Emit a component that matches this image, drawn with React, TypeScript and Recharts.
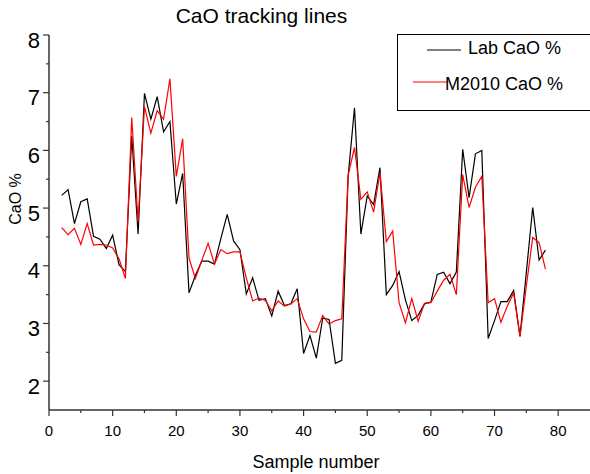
import { Label, Legend, Line, LineChart, XAxis, YAxis } from "recharts"

const sampleNumbers = [
  2, 3, 4, 5, 6, 7, 8, 9, 10, 11, 12, 13, 14, 15, 16, 17, 18, 19, 20, 21, 22, 23, 24, 25, 26, 27, 28, 29, 30,
  31, 32, 33, 34, 35, 36, 37, 38, 39, 40, 41, 42, 43, 44, 45, 46, 47, 48, 49, 50, 51, 52, 53, 54, 55, 56, 57,
  58, 59, 60, 61, 62, 63, 64, 65, 66, 67, 68, 69, 70, 71, 72, 73, 74, 75, 76, 77, 78,
]

const labCaO = [
  5.22, 5.32, 4.73, 5.11, 5.16, 4.51, 4.46, 4.3, 4.53, 4.02, 3.9, 6.25, 4.55, 6.99, 6.54, 6.93, 6.32, 6.5, 5.07,
  5.6, 3.53, 3.83, 4.08, 4.08, 4.03, 4.47, 4.89, 4.43, 4.28, 3.51, 3.79, 3.4, 3.43, 3.13, 3.56, 3.31, 3.34, 3.6,
  2.48, 2.79, 2.4, 3.09, 3.07, 2.31, 2.36, 5.55, 6.74, 4.55, 5.21, 5.06, 5.7, 3.5, 3.66, 3.9, 3.41, 3.05, 3.14,
  3.34, 3.37, 3.85, 3.89, 3.69, 3.89, 6.02, 5.18, 5.94, 6.0, 2.74, 3.05, 3.38, 3.38, 3.57, 2.78, 3.89, 5.01, 4.1,
  4.27,
]

const m2010CaO = [
  4.66, 4.54, 4.65, 4.37, 4.73, 4.36, 4.37, 4.36, 4.31, 4.12, 3.78, 6.57, 4.76, 6.76, 6.3, 6.69, 6.54, 7.24, 5.55,
  6.2, 4.13, 3.78, 4.09, 4.39, 4.03, 4.28, 4.21, 4.24, 4.24, 3.79, 3.39, 3.44, 3.4, 3.22, 3.39, 3.3, 3.34, 3.43,
  3.08, 2.86, 2.85, 3.14, 2.99, 3.05, 3.08, 5.57, 6.05, 5.15, 5.28, 4.93, 5.61, 4.42, 4.6, 3.36, 3.01, 3.43, 3.04,
  3.35, 3.36, 3.56, 3.75, 3.85, 3.5, 5.58, 5.01, 5.36, 5.55, 3.36, 3.43, 3.02, 3.3, 3.53, 2.77, 3.65, 4.49, 4.4,
  3.94,
]

const xTicks = [0, 5, 10, 15, 20, 25, 30, 35, 40, 45, 50, 55, 60, 65, 70, 75, 80]
const yTicks = [2, 2.5, 3, 3.5, 4, 4.5, 5, 5.5, 6, 6.5, 7, 7.5, 8]

const data = sampleNumbers.map((n, i) => ({ n, lab: labCaO[i], m2010: m2010CaO[i] }))

const axisColor = "#333"

const YTick = ({ x, y, payload }: any) => {
  const major = Number.isInteger(payload.value)
  return (
    <g>
      <line x1={x - (major ? 6 : 3)} x2={x} y1={y} y2={y} stroke={axisColor} strokeWidth={1.2} />
      {major && (
        <text x={x - 9} y={y + 12.5} textAnchor="end" fontSize={22} fill="#000">
          {payload.value}
        </text>
      )}
    </g>
  )
}

const XTick = ({ x, y, payload }: any) => {
  const major = payload.value % 10 === 0
  return (
    <g>
      <line x1={x} x2={x} y1={y} y2={y + (major ? 6 : 3)} stroke={axisColor} strokeWidth={1.2} />
      {major && (
        <text x={x} y={y + 26} textAnchor="middle" fontSize={15} fill="#000">
          {payload.value}
        </text>
      )}
    </g>
  )
}

const legendOffsets = [
  { lineX: 30, lineY: 16, textX: 71, textY: 20 },
  { lineX: 16, lineY: 48, textX: 48, textY: 56 },
]

const LegendBox = ({ payload }: any) => (
  <svg width={200} height={77} style={{ display: "block" }}>
    <rect x={0.5} y={0.5} width={220} height={76} fill="#fff" stroke="#000" strokeWidth={1} />
    {(payload || []).map((entry: any, i: number) => {
      const o = legendOffsets[i]
      return (
        <g key={entry.value}>
          <line x1={o.lineX} x2={o.lineX + 34} y1={o.lineY} y2={o.lineY} stroke={entry.color} strokeWidth={1} />
          <text x={o.textX} y={o.textY} fontSize={18} fill="#000">
            {entry.value}
          </text>
        </g>
      )
    })}
  </svg>
)

export default function App() {
  return (
    <div
      style={{
        position: "absolute",
        left: 0,
        top: 0,
        width: 590,
        height: 474,
        overflow: "hidden",
        background: "#fff",
        fontFamily: "'Liberation Sans', Arial, sans-serif",
      }}
    >
      <div
        style={{
          position: "absolute",
          left: 0,
          top: 5,
          width: 523,
          textAlign: "center",
          fontSize: 21,
          lineHeight: "21px",
          color: "#000",
        }}
      >
        CaO tracking lines
      </div>
      <LineChart width={590} height={474} data={data} margin={{ top: 35, right: 0, left: 0, bottom: 0 }}>
        <XAxis
          dataKey="n"
          type="number"
          domain={[0, 85]}
          ticks={xTicks}
          interval={0}
          height={64}
          tickSize={0}
          tickMargin={0}
          tickLine={false}
          tick={<XTick />}
          axisLine={{ stroke: axisColor, strokeWidth: 1.5 }}
          allowDataOverflow
        >
          <Label
            content={() => (
              <text x={316} y={468} textAnchor="middle" fontSize={18} fill="#000">
                Sample number
              </text>
            )}
          />
        </XAxis>
        <YAxis
          type="number"
          domain={[1.5, 8]}
          ticks={yTicks}
          interval={0}
          width={49}
          tickSize={0}
          tickMargin={0}
          tickLine={false}
          tick={<YTick />}
          axisLine={{ stroke: axisColor, strokeWidth: 1.5 }}
          allowDataOverflow
        >
          <Label
            content={() => (
              <text x={20.5} y={199} transform="rotate(-90 20.5 199)" textAnchor="middle" fontSize={16} fill="#000">
                CaO %
              </text>
            )}
          />
        </YAxis>
        <Legend
          content={<LegendBox />}
          layout="horizontal"
          verticalAlign="middle"
          align="center"
          wrapperStyle={{ position: "absolute", left: 397, top: 34, width: 200, height: 77 }}
        />
        <Line
          dataKey="lab"
          name="Lab CaO %"
          type="linear"
          stroke="#000"
          strokeWidth={1.2}
          dot={false}
          activeDot={false}
          isAnimationActive={false}
        />
        <Line
          dataKey="m2010"
          name="M2010 CaO %"
          type="linear"
          stroke="#ff0000"
          strokeWidth={1.2}
          dot={false}
          activeDot={false}
          isAnimationActive={false}
        />
      </LineChart>
    </div>
  )
}
